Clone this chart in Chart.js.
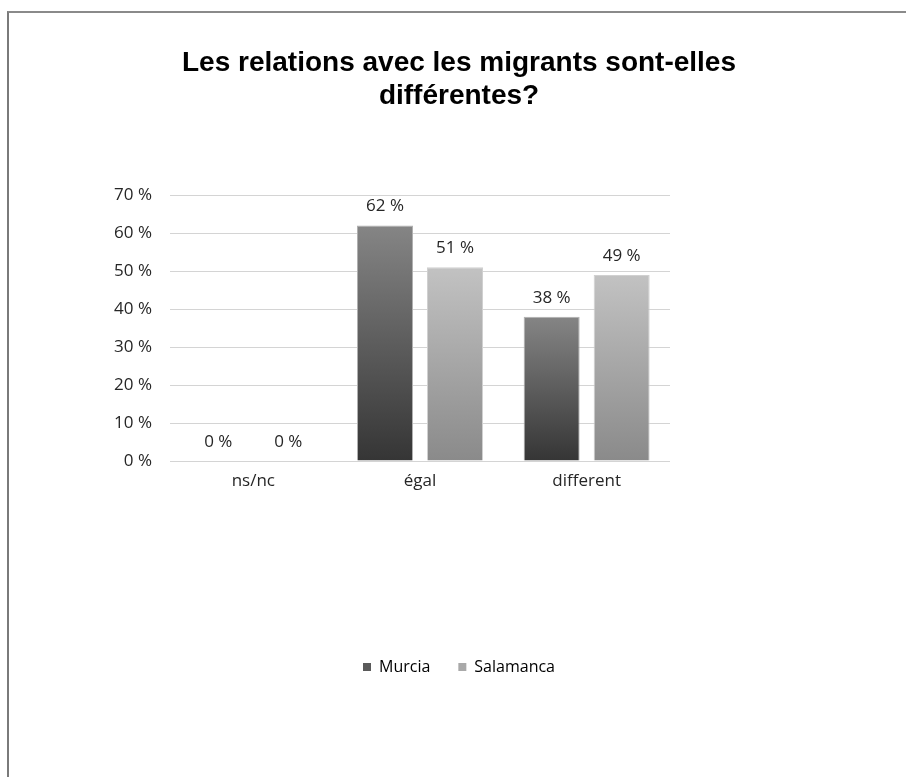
<!DOCTYPE html>
<html>
<head>
<meta charset="utf-8">
<script src="https://cdn.jsdelivr.net/npm/chart.js@4"></script>
<style>
  html, body { margin: 0; padding: 0; background: #fff; }
  #frame {
    position: absolute; left: 7px; top: 11px; width: 1000px; height: 1000px;
    border-top: 2px solid #8a8a8a; border-left: 2px solid #7a7a7a;
  }
  #wrap { position: absolute; left: 0; top: 0; width: 906px; height: 777px; }
</style>
</head>
<body>
<div id="frame"></div>
<div id="wrap"><canvas id="chart"></canvas></div>
<script>
const categories = ['ns/nc', 'égal', 'different'];
const murcia = [0, 62, 38];
const salamanca = [0, 51, 49];
const yMax = 70;
const yStep = 10;

const textColor = '#262626';
const gridColor = '#d4d4d4';

function barFill(top, bottom) {
    return (ctx) => {
        const chart = ctx.chart;
        const y = chart.scales.y;
        if (!y || ctx.type !== 'data') return bottom;
        const y0 = y.getPixelForValue(0);
        let y1 = y.getPixelForValue(ctx.raw);
        if (!isFinite(y0) || !isFinite(y1)) return bottom;
        if (y0 - y1 < 1) y1 = y0 - 1;
        const g = chart.ctx.createLinearGradient(0, y1, 0, y0);
        g.addColorStop(0, top);
        g.addColorStop(1, bottom);
        return g;
    };
}

const legendColors = ['#5a5a5a', '#a9a9a9'];

// value labels above the bars
const valueLabels = {
    id: 'valueLabels',
    afterDatasetsDraw(chart) {
        const c = chart.ctx;
        c.save();
        c.font = '17px "Open Sans"';
        c.fillStyle = textColor;
        c.textAlign = 'center';
        c.textBaseline = 'middle';
        chart.data.datasets.forEach((ds, i) => {
            chart.getDatasetMeta(i).data.forEach((bar, j) => {
                c.fillText(ds.data[j] + ' %', bar.x, bar.y - 19);
            });
        });
        c.restore();
    }
};

new Chart(document.getElementById('chart'), {
    type: 'bar',
    data: {
        labels: categories,
        datasets: [
            {
                label: 'Murcia',
                data: murcia,
                backgroundColor: barFill('#858585', '#353535'),
                borderColor: '#b0b0b0',
                borderWidth: 1,
                yAxisID: 'y'
            },
            {
                label: 'Salamanca',
                data: salamanca,
                backgroundColor: barFill('#c2c2c2', '#8a8a8a'),
                borderColor: '#d0d0d0',
                borderWidth: 1,
                yAxisID: 'y'
            }
        ]
    },
    options: {
        responsive: true,
        maintainAspectRatio: false,
        animation: false,
        datasets: { bar: { categoryPercentage: 0.84, barPercentage: 0.8 } },
        layout: { padding: { left: 12, right: 0, top: 0, bottom: 92 } },
        plugins: {
            title: {
                display: true,
                text: ['Les relations avec les migrants sont-elles', 'différentes?'],
                color: '#000',
                font: { family: '"Liberation Sans", Arial, sans-serif', size: 28, weight: 'bold', lineHeight: 1.2 },
                padding: { top: 46, bottom: 82 }
            },
            legend: {
                position: 'bottom',
                labels: {
                    boxWidth: 8,
                    boxHeight: 8,
                    padding: 28,
                    color: textColor,
                    font: { family: '"Open Sans"', size: 16 },
                    generateLabels: (chart) => chart.data.datasets.map((ds, i) => ({
                        text: ds.label,
                        fillStyle: legendColors[i],
                        strokeStyle: legendColors[i],
                        lineWidth: 0,
                        hidden: false,
                        datasetIndex: i
                    }))
                }
            },
            tooltip: { enabled: false }
        },
        scales: {
            x: {
                grid: { display: false },
                border: { display: false },
                ticks: { color: textColor, font: { family: '"Open Sans"', size: 17 }, padding: 2 },
                afterFit: (s) => { s.height = 170; }
            },
            y: {
                min: 0,
                max: yMax,
                ticks: {
                    stepSize: yStep,
                    padding: 18,
                    color: textColor,
                    font: { family: '"Open Sans"', size: 17 },
                    callback: (v) => v + ' %'
                },
                grid: { color: gridColor, drawTicks: false },
                border: { display: false },
                afterFit: (s) => { s.width = 158; }
            },
            y2: {
                position: 'right',
                grid: { display: false },
                border: { display: false },
                ticks: { display: false },
                afterFit: (s) => { s.width = 236; }
            }
        }
    },
    plugins: [valueLabels]
});
</script>
</body>
</html>
